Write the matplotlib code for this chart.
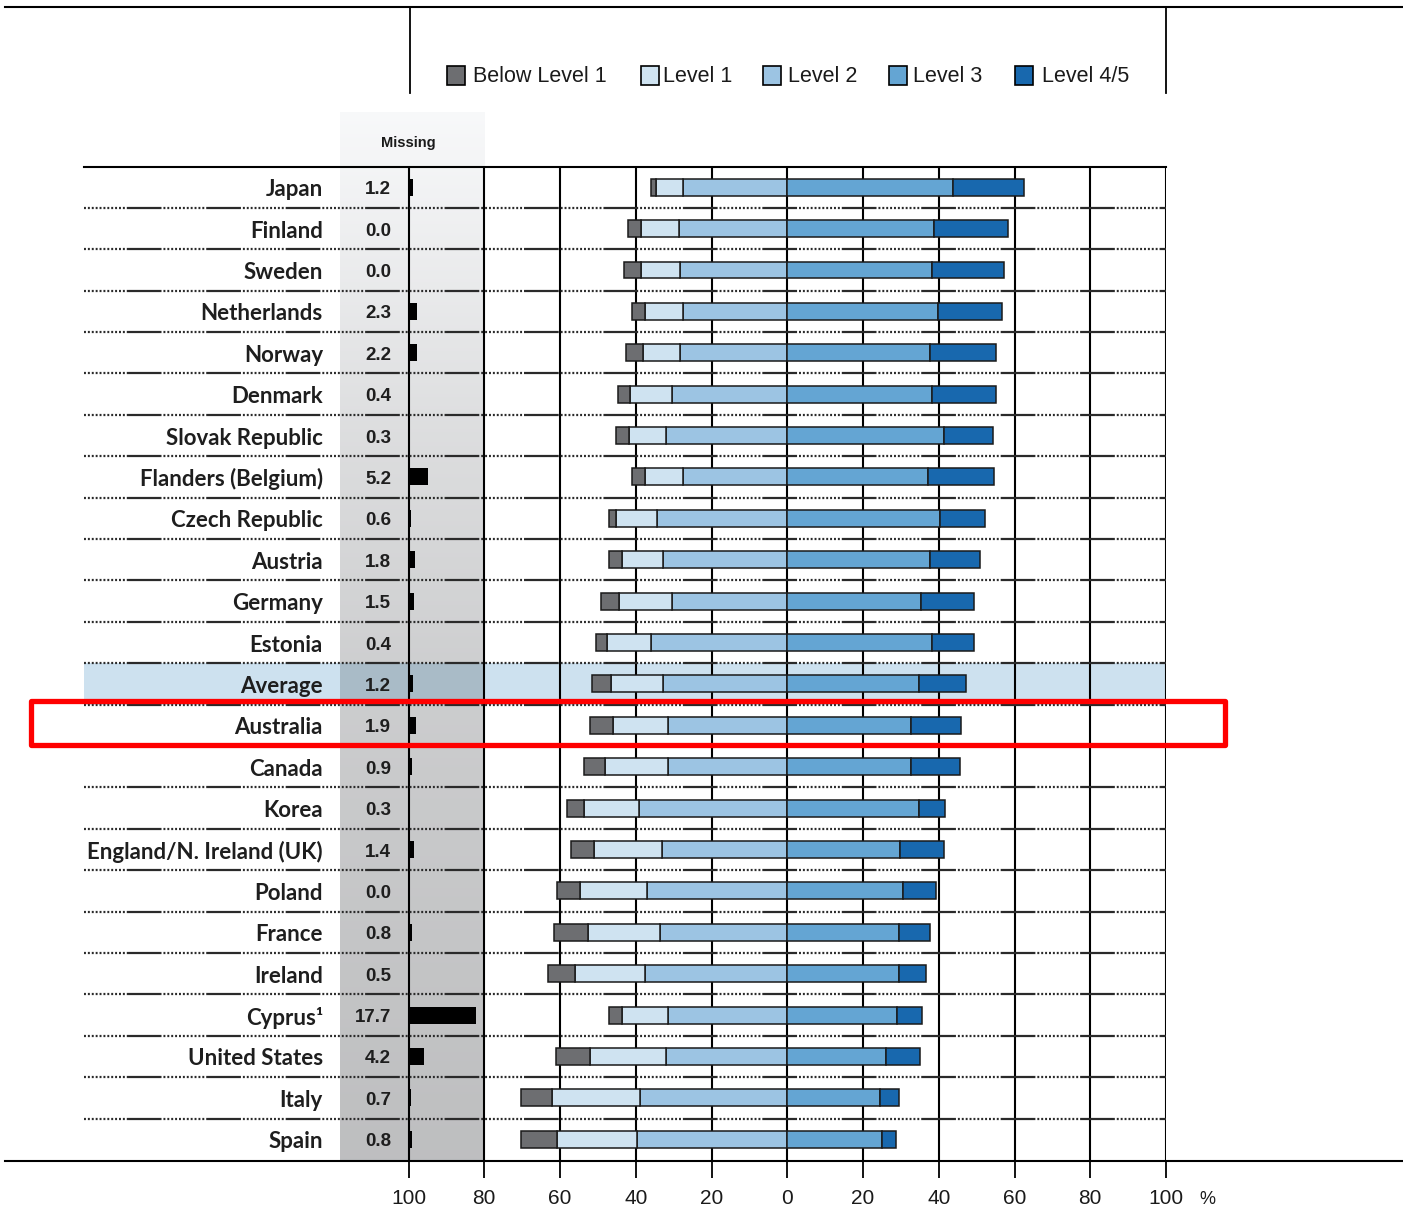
import numpy as np
import matplotlib
matplotlib.use("Agg")
import matplotlib.pyplot as plt
from matplotlib.patches import Rectangle
from matplotlib.lines import Line2D

plt.rcParams['lines.scale_dashes'] = False

# ---------------- data ----------------
countries = ["Japan", "Finland", "Sweden", "Netherlands", "Norway", "Denmark",
             "Slovak Republic", "Flanders (Belgium)", "Czech Republic", "Austria",
             "Germany", "Estonia", "Average", "Australia", "Canada", "Korea",
             "England/N. Ireland (UK)", "Poland", "France", "Ireland", "Cyprus¹",
             "United States", "Italy", "Spain"]
missing = [1.2, 0.0, 0.0, 2.3, 2.2, 0.4, 0.3, 5.2, 0.6, 1.8, 1.5, 0.4,
           1.2, 1.9, 0.9, 0.3, 1.4, 0.0, 0.8, 0.5, 17.7, 4.2, 0.7, 0.8]
below1 = [1.3, 3.4, 4.5, 3.4, 4.5, 3.4, 3.4, 3.4, 1.7, 3.4, 5.0, 2.7,
          5.0, 6.1, 5.6, 4.5, 6.1, 6.2, 8.9, 7.2, 3.4, 9.0, 8.4, 9.5]
level1 = [7.1, 10.1, 10.5, 10.1, 9.9, 11.1, 9.8, 10.1, 11.0, 11.0, 13.9, 11.7,
          13.8, 14.3, 16.5, 14.4, 17.7, 17.7, 18.9, 18.4, 12.1, 19.9, 23.2, 21.1]
level2 = [27.5, 28.6, 28.2, 27.5, 28.2, 30.3, 32.1, 27.5, 34.3, 32.7, 30.4, 36.0,
          32.7, 31.6, 31.6, 39.2, 33.2, 37.0, 33.7, 37.6, 31.6, 32.1, 38.8, 39.8]
level3 = [43.7, 38.8, 38.3, 39.9, 37.7, 38.3, 41.4, 37.2, 40.4, 37.7, 35.4, 38.3,
          34.9, 32.7, 32.7, 34.9, 29.9, 30.5, 29.4, 29.4, 28.9, 26.0, 24.4, 24.9]
level45 = [18.9, 19.5, 18.9, 16.7, 17.3, 16.7, 13.0, 17.3, 11.8, 13.2, 13.9, 11.0,
           12.2, 13.3, 12.8, 6.7, 11.6, 8.9, 8.3, 7.2, 6.7, 9.0, 5.0, 3.9]
legend_labels = ["Below Level 1", "Level 1", "Level 2", "Level 3", "Level 4/5"]
tick_pos = [-100, -80, -60, -40, -20, 0, 20, 40, 60, 80, 100]
tick_labels = ["100", "80", "60", "40", "20", "0", "20", "40", "60", "80", "100"]
highlight_row = "Average"
boxed_row = "Australia"

# ---------------- style ----------------
c_below = "#6d6e71"
c_l1 = "#cfe3f1"
c_l2 = "#9cc4e3"
c_l3 = "#64a5d3"
c_l45 = "#1868ae"
colors = [c_below, c_l1, c_l2, c_l3, c_l45]
edge = "#1a1a1a"

F_LABEL = ["Lato", "DejaVu Sans"]
F_TEXT = ["Liberation Sans", "DejaVu Sans"]

W, H = 1403, 1210
fig = plt.figure(figsize=(W / 100, H / 100), dpi=100)


def fx(px):
    return px / W


def fy(py):
    return 1 - py / H


ax = fig.add_axes([fx(84), fy(1160), fx(1166) - fx(84), fy(166.5) - fy(1160)])

n = len(countries)
y = np.arange(n)
XL = -100 - (408.5 - 84) / 3.7875
PANEL_L = -118.1
bh = 0.41

b1 = np.array(below1); l1 = np.array(level1); l2 = np.array(level2)
l3 = np.array(level3); l45 = np.array(level45); ms = np.array(missing)

# gray "missing" panel with vertical gradient
top_panel = -0.5 - (166.5 - 112) / 41.4
rows = np.linspace(112, 1160, 400)
g = np.interp(rows, [112, 200, 436, 700, 1160], [0.972, 0.945, 0.865, 0.80, 0.745])
img = np.stack([g, g + 0.003, g + 0.008], axis=-1)[:, None, :].repeat(2, axis=1)
img = np.clip(img, 0, 1)
ax.imshow(img, extent=(PANEL_L, -80, n - 0.5, top_panel), aspect='auto',
          zorder=0.2, clip_on=False, interpolation='bilinear', origin='upper')

# average band
ia = countries.index(highlight_row)
ax.add_patch(Rectangle((XL, ia - 0.5), 100 - XL, 1, facecolor="#cde1ef",
                       edgecolor='none', zorder=0.4))
ax.add_patch(Rectangle((PANEL_L, ia - 0.5), -80 - PANEL_L, 1, facecolor="#a9bbc7",
                       edgecolor='none', zorder=0.5))

# vertical grid lines
for t in tick_pos:
    ax.plot([t, t], [n - 0.5, -0.5], color="black", lw=1.5, zorder=1,
            solid_capstyle='butt')

# row separators
dash = [1.4, 1.4] * 11 + [25, 1.4]
for i in range(n - 1):
    ax.plot([XL, 100], [i + 0.5, i + 0.5], color="#2a2a2a", lw=1.6,
            dashes=dash, zorder=1.5)

# bars
kw = dict(height=bh, edgecolor=edge, linewidth=1.1, zorder=3)
ax.barh(y, -l2, left=0, color=c_l2, **kw)
ax.barh(y, -l1, left=-l2, color=c_l1, **kw)
ax.barh(y, -b1, left=-(l2 + l1), color=c_below, **kw)
ax.barh(y, l3, left=0, color=c_l3, **kw)
ax.barh(y, l45, left=l3, color=c_l45, **kw)
ax.barh(y, ms, left=-100, color="black", height=bh, edgecolor='none', zorder=3)

# labels
for i, c in enumerate(countries):
    ax.text(-122.6, i + 0.06, c, ha='right', va='center', fontsize=16,
            family=F_LABEL, weight='bold', color="#1e1e1e", zorder=4)
    ax.text(-104.6, i + 0.06, f"{missing[i]:.1f}", ha='right', va='center',
            fontsize=13.5, family=F_TEXT, weight='bold', color="#1e1e1e", zorder=4)
ax.text(-100, -0.5 - (166.5 - 143) / 41.4, "Missing", ha='center', va='center',
        fontsize=10.5, family=F_TEXT, weight='bold', color="#1a1a1a")

ax.set_xlim(XL, 100)
ax.set_ylim(n - 0.5, -0.5)
ax.set_xticks(tick_pos)
ax.set_xticklabels(tick_labels, family=F_TEXT, fontsize=15, color="#1a1a1a")
ax.set_yticks([])
ax.tick_params(axis='x', direction='out', length=13, width=1.3, pad=8, color="black")
for s in ['left', 'right', 'bottom']:
    ax.spines[s].set_visible(False)
ax.spines['top'].set_linewidth(1.5)
ax.set_facecolor('none')

fig.text(fx(1207), fy(1200), "%", ha='center', va='center', fontsize=13,
         family=F_TEXT, color="#1a1a1a")

# figure frame lines
fig.add_artist(Line2D([fx(5), fx(1403)], [fy(1160.5), fy(1160.5)], color='black', lw=1.5))
fig.add_artist(Line2D([fx(5), fx(1403)], [fy(7), fy(7)], color='black', lw=1.5))
fig.add_artist(Line2D([fx(410), fx(410)], [fy(7), fy(93)], color='black', lw=1.3))
fig.add_artist(Line2D([fx(1166), fx(1166)], [fy(7), fy(93)], color='black', lw=1.3))

# legend
sq_x = [447, 641, 763, 889, 1015]
tx_x = [473, 663, 788, 913, 1042]
for lab, col, sx, tx in zip(legend_labels, colors, sq_x, tx_x):
    fig.add_artist(Rectangle((fx(sx), fy(85)), 18 / W, 19 / H, facecolor=col,
                             edgecolor='black', lw=1.2, transform=fig.transFigure))
    fig.text(fx(tx), fy(76), lab, ha='left', va='center', fontsize=15.5,
             family=F_TEXT, color="#1a1a1a")

# red box around highlighted country
fig.add_artist(Rectangle((fx(31), fy(744.5)), (1225 - 31) / W, 44 / H,
                         facecolor='none', edgecolor='#ff0000', lw=3.8,
                         joinstyle='round', transform=fig.transFigure, zorder=10))

fig.savefig("out.png", dpi=100)
